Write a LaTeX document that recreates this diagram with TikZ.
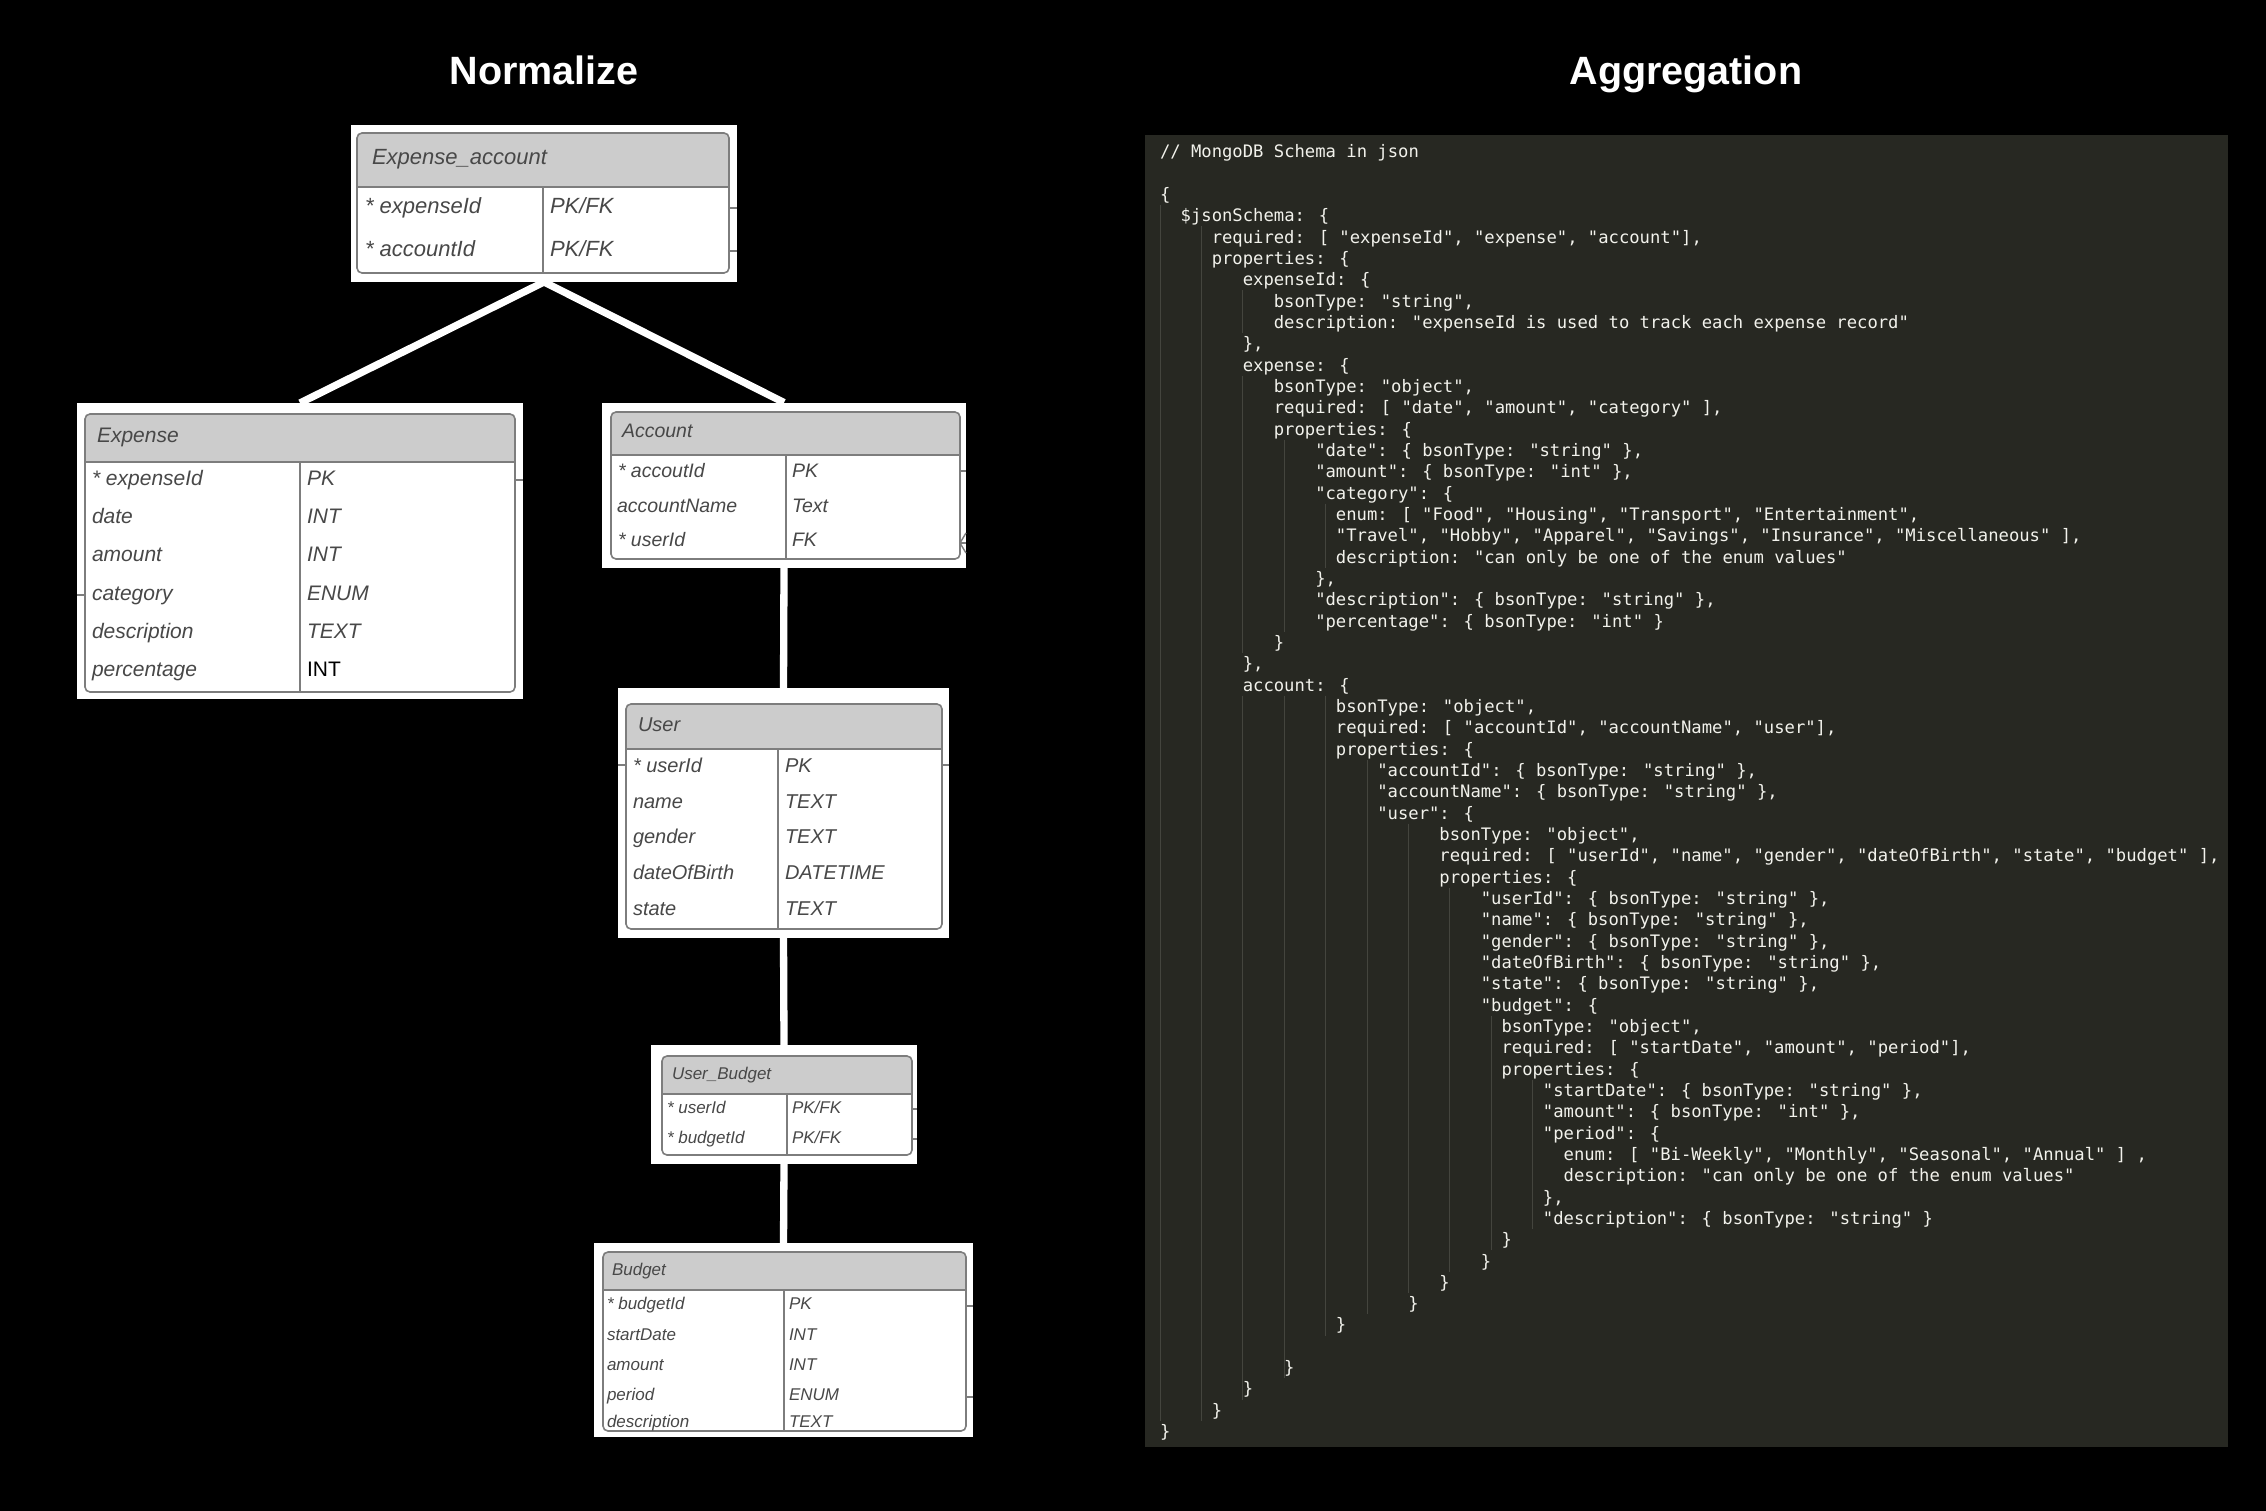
\documentclass[tikz,border=0pt]{standalone}
\usepackage{fontspec}
\setmainfont{Liberation Sans}
\newfontfamily\codefont{DejaVu Sans Mono}
\definecolor{panel}{RGB}{39,40,34}
\definecolor{codetxt}{RGB}{242,242,236}
\definecolor{guidecol}{RGB}{68,69,62}
\definecolor{hdr}{RGB}{204,204,204}
\definecolor{bord}{RGB}{125,125,125}
\definecolor{ertxt}{RGB}{72,72,72}
\tikzset{
  every node/.style={inner sep=0pt, outer sep=0pt},
  outerbox/.style={fill=white, draw=none, rectangle},
  conn/.style={draw=white, line width=7.3pt},
  tb/.style={draw=bord, line width=1.6pt},
  stub/.style={draw=bord, line width=1.4pt},
  guideline/.style={draw=guidecol, line width=0.9pt},
  code/.style={anchor=base west, text=codetxt, font=\codefont\fontsize{17.2}{20}\selectfont},
  titletxt/.style={anchor=base, text=white, font=\bfseries\fontsize{39.5}{44}\selectfont},
  ertext/.style={anchor=base west, text=ertxt},
  fA/.style={font=\itshape\fontsize{22}{26}\selectfont},
  fB/.style={font=\itshape\fontsize{21}{25}\selectfont},
  fC/.style={font=\itshape\fontsize{19.5}{23}\selectfont},
  fD/.style={font=\itshape\fontsize{20}{24}\selectfont},
  fE/.style={font=\itshape\fontsize{17}{20}\selectfont},
}
\newcommand\ertab[6]{%
  \begin{scope}
    \clip[rounded corners=5pt] (#1,#2) rectangle (#3,#4);
    \fill[white] (#1,#2) rectangle (#3,#4);
    \fill[hdr] (#1,#2) rectangle (#3,#5);
  \end{scope}
  \draw[tb, rounded corners=5pt] (#1,#2) rectangle (#3,#4);
  \draw[tb] (#1,#5) -- (#3,#5);
  \draw[tb] (#6,#5) -- (#6,#4);
}
\newcommand\cl[3]{\node[code] (c#1) at ({1160+#2*10.35},{136.5+#1*21.33}) {#3};}
\begin{document}
\begin{tikzpicture}[x=1pt,y=-1pt]
\useasboundingbox (0,0) rectangle (2266,1511);
\fill[black] (0,0) rectangle (2266,1511);

% titles
\node[titletxt] (tnorm) at (544,84.3) {Normalize};
\node[titletxt] (taggr) at (1685.8,84.3) {Aggregation};

% outer white boxes
\node[outerbox, minimum width=386pt, minimum height=157pt] (ea) at (544,203.5) {};
\node[outerbox, minimum width=446pt, minimum height=296pt] (exp) at (300,551) {};
\node[outerbox, minimum width=364pt, minimum height=165pt] (acc) at (784,485) {};
\node[outerbox, minimum width=331pt, minimum height=249.5pt] (usr) at (783.5,812.75) {};
\node[outerbox, minimum width=266pt, minimum height=119pt] (ub) at (784,1104.5) {};
\node[outerbox, minimum width=379pt, minimum height=194pt] (bud) at (783.5,1340) {};

% connectors
\draw[conn] (ea.south) -- (exp.north);
\draw[conn] (ea.south) -- (acc.north);
\draw[conn] (acc.south) -- (usr.north);
\draw[conn] (usr.south) -- (ub.north);
\draw[conn] (ub.south) -- (bud.north);

% tables
\ertab{357}{133}{729}{273}{187}{543}
\ertab{85}{414}{515}{692}{462}{300}
\ertab{611}{412}{960}{559}{455}{786}
\ertab{626}{704}{942}{929}{749}{778}
\ertab{662}{1056}{912}{1155}{1094}{787}
\ertab{603}{1252}{966}{1431}{1290}{784}

% stubs
\draw[stub] (729,208) -- (737,208);
\draw[stub] (729,251) -- (737,251);
\draw[stub] (515,480) -- (523,480);
\draw[stub] (77,595) -- (85,595);
\draw[stub] (960,471) -- (966,471);
\draw[stub] (960,543) -- (966,543);
\draw[stub] (960,543) -- (966,533);
\draw[stub] (960,543) -- (966,553);
\draw[stub] (618,765) -- (626,765);
\draw[stub] (942,765) -- (949,765);
\draw[stub] (912,1109) -- (917,1109);
\draw[stub] (912,1139) -- (917,1139);
\draw[stub] (966,1306) -- (973,1306);
\draw[stub] (966,1397) -- (973,1397);

% Expense_account
\node[ertext,fA] (eah) at (372,165) {Expense\_account};
\node[ertext,fA] (ear1) at (365,214) {* expenseId};
\node[ertext,fA] (ear2) at (365,257) {* accountId};
\node[ertext,fA] (eat1) at (550,214) {PK/FK};
\node[ertext,fA] (eat2) at (550,257) {PK/FK};

% Expense
\node[ertext,fB] (exph) at (97,442) {Expense};
\node[ertext,fB] (expr1) at (92,485.5) {* expenseId};
\node[ertext,fB] (expr2) at (92,523.5) {date};
\node[ertext,fB] (expr3) at (92,561.5) {amount};
\node[ertext,fB] (expr4) at (92,600) {category};
\node[ertext,fB] (expr5) at (92,638) {description};
\node[ertext,fB] (expr6) at (92,676.5) {percentage};
\node[ertext,fB] (expt1) at (307,485.5) {PK};
\node[ertext,fB] (expt2) at (307,523.5) {INT};
\node[ertext,fB] (expt3) at (307,561.5) {INT};
\node[ertext,fB] (expt4) at (307,600) {ENUM};
\node[ertext,fB] (expt5) at (307,638) {TEXT};
\node[ertext,font=\upshape\fontsize{21}{25}\selectfont,text=black] (expt6) at (307,676.5) {INT};

% Account
\node[ertext,fC] (acch) at (622,437.5) {Account};
\node[ertext,fC] (accr1) at (618,477) {* accoutId};
\node[ertext,fC] (accr2) at (617,512) {accountName};
\node[ertext,fC] (accr3) at (618,546.5) {* userId};
\node[ertext,fC] (acct1) at (792,477) {PK};
\node[ertext,fC] (acct2) at (792,512) {Text};
\node[ertext,fC] (acct3) at (792,546.5) {FK};

% User
\node[ertext,fD] (usrh) at (638,731) {User};
\node[ertext,fD] (usrr1) at (633,772) {* userId};
\node[ertext,fD] (usrr2) at (633,808) {name};
\node[ertext,fD] (usrr3) at (633,843.5) {gender};
\node[ertext,fD] (usrr4) at (633,879) {dateOfBirth};
\node[ertext,fD] (usrr5) at (633,915) {state};
\node[ertext,fD] (usrt1) at (785,772) {PK};
\node[ertext,fD] (usrt2) at (785,808) {TEXT};
\node[ertext,fD] (usrt3) at (785,843.5) {TEXT};
\node[ertext,fD] (usrt4) at (785,879) {DATETIME};
\node[ertext,fD] (usrt5) at (785,915) {TEXT};

% User_Budget
\node[ertext,fE] (ubh) at (672,1079) {User\_Budget};
\node[ertext,fE] (ubr1) at (667,1113) {* userId};
\node[ertext,fE] (ubr2) at (667,1143) {* budgetId};
\node[ertext,fE] (ubt1) at (792,1113) {PK/FK};
\node[ertext,fE] (ubt2) at (792,1143) {PK/FK};

% Budget
\node[ertext,fE] (budh) at (612,1275) {Budget};
\node[ertext,fE] (budr1) at (607,1309) {* budgetId};
\node[ertext,fE] (budr2) at (607,1340) {startDate};
\node[ertext,fE] (budr3) at (607,1370) {amount};
\node[ertext,fE] (budr4) at (607,1400.5) {period};
\node[ertext,fE] (budr5) at (607,1427.5) {description};
\node[ertext,fE] (budt1) at (789,1309) {PK};
\node[ertext,fE] (budt2) at (789,1340) {INT};
\node[ertext,fE] (budt3) at (789,1370) {INT};
\node[ertext,fE] (budt4) at (789,1400.5) {ENUM};
\node[ertext,fE] (budt5) at (789,1427.5) {TEXT};

% code panel
\fill[panel] (1145,135) rectangle (2228,1447);

% indent guides
\foreach \n/\g in {4/2,5/5,6/5,7/8,8/11,9/11,10/8,11/8,12/11,13/11,14/11,15/15,16/15,17/15,18/17,19/17,20/17,21/15,22/15,23/15,24/11,25/8,26/8,27/17,28/17,29/17,30/21,31/21,32/21,33/27,34/27,35/27,36/31,37/31,38/31,39/31,40/31,41/31,42/33,43/33,44/33,45/37,46/37,47/37,48/39,49/39,50/37,51/37,52/33,53/31,54/27,55/24,56/17,57/13,58/13,59/9,60/5}{
  \foreach \k in {0,4,...,36}{
    \ifnum\k<\g\relax
      \draw[guideline] ({1160+\k*10.35},{136.5+\n*21.33-16.7}) -- ({1160+\k*10.35},{136.5+\n*21.33+4.63});
    \fi
  }
}

% code text
\cl{1}{0}{// MongoDB Schema in json}
\cl{3}{0}{\{}
\cl{4}{2}{\$jsonSchema: \{}
\cl{5}{5}{required: [ "expenseId", "expense", "account"],}
\cl{6}{5}{properties: \{}
\cl{7}{8}{expenseId: \{}
\cl{8}{11}{bsonType: "string",}
\cl{9}{11}{description: "expenseId is used to track each expense record"}
\cl{10}{8}{\},}
\cl{11}{8}{expense: \{}
\cl{12}{11}{bsonType: "object",}
\cl{13}{11}{required: [ "date", "amount", "category" ],}
\cl{14}{11}{properties: \{}
\cl{15}{15}{"date": \{ bsonType: "string" \},}
\cl{16}{15}{"amount": \{ bsonType: "int" \},}
\cl{17}{15}{"category": \{}
\cl{18}{17}{enum: [ "Food", "Housing", "Transport", "Entertainment",}
\cl{19}{17}{"Travel", "Hobby", "Apparel", "Savings", "Insurance", "Miscellaneous" ],}
\cl{20}{17}{description: "can only be one of the enum values"}
\cl{21}{15}{\},}
\cl{22}{15}{"description": \{ bsonType: "string" \},}
\cl{23}{15}{"percentage": \{ bsonType: "int" \}}
\cl{24}{11}{\}}
\cl{25}{8}{\},}
\cl{26}{8}{account: \{}
\cl{27}{17}{bsonType: "object",}
\cl{28}{17}{required: [ "accountId", "accountName", "user"],}
\cl{29}{17}{properties: \{}
\cl{30}{21}{"accountId": \{ bsonType: "string" \},}
\cl{31}{21}{"accountName": \{ bsonType: "string" \},}
\cl{32}{21}{"user": \{}
\cl{33}{27}{bsonType: "object",}
\cl{34}{27}{required: [ "userId", "name", "gender", "dateOfBirth", "state", "budget" ],}
\cl{35}{27}{properties: \{}
\cl{36}{31}{"userId": \{ bsonType: "string" \},}
\cl{37}{31}{"name": \{ bsonType: "string" \},}
\cl{38}{31}{"gender": \{ bsonType: "string" \},}
\cl{39}{31}{"dateOfBirth": \{ bsonType: "string" \},}
\cl{40}{31}{"state": \{ bsonType: "string" \},}
\cl{41}{31}{"budget": \{}
\cl{42}{33}{bsonType: "object",}
\cl{43}{33}{required: [ "startDate", "amount", "period"],}
\cl{44}{33}{properties: \{}
\cl{45}{37}{"startDate": \{ bsonType: "string" \},}
\cl{46}{37}{"amount": \{ bsonType: "int" \},}
\cl{47}{37}{"period": \{}
\cl{48}{39}{enum: [ "Bi-Weekly", "Monthly", "Seasonal", "Annual" ] ,}
\cl{49}{39}{description: "can only be one of the enum values"}
\cl{50}{37}{\},}
\cl{51}{37}{"description": \{ bsonType: "string" \}}
\cl{52}{33}{\}}
\cl{53}{31}{\}}
\cl{54}{27}{\}}
\cl{55}{24}{\}}
\cl{56}{17}{\}}
\cl{58}{12}{\}}
\cl{59}{8}{\}}
\cl{60}{5}{\}}
\cl{61}{0}{\}}
\end{tikzpicture}
\end{document}
